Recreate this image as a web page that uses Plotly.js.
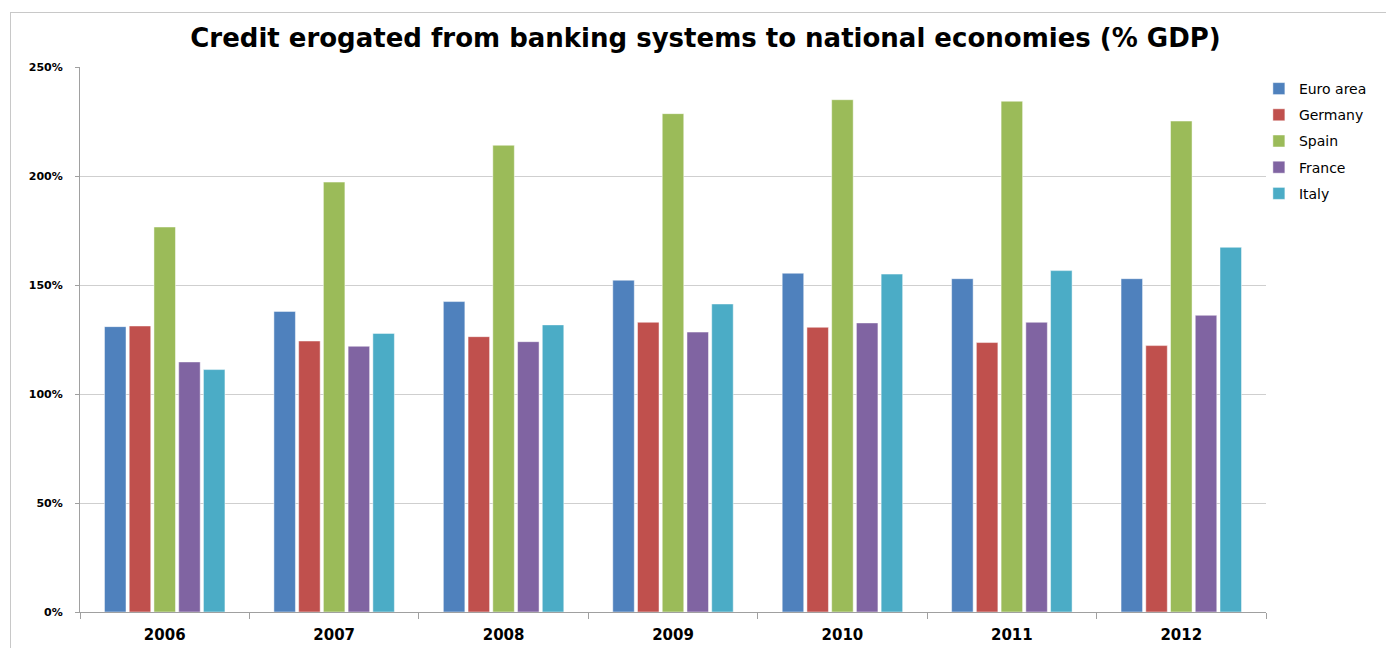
<!DOCTYPE html>
<html>
<head>
<meta charset="utf-8">
<script src="https://cdn.plot.ly/plotly-3.0.1.min.js"></script>
<style>
html,body{margin:0;padding:0;background:#fff;overflow:hidden;}
#chart{width:1386px;height:648px;position:relative;}
#frame{position:absolute;left:10px;top:12px;width:1400px;height:700px;border:1px solid #c8c8c8;pointer-events:none;}
</style>
</head>
<body>
<div id="chart"></div>
<div id="frame"></div>
<script>
const years = ['2006','2007','2008','2009','2010','2011','2012'];
const euroArea = [130.9, 137.9, 142.4, 152.2, 155.4, 152.9, 152.9];
const germany  = [131.2, 124.3, 126.3, 132.9, 130.6, 123.6, 122.2];
const spain    = [176.6, 197.2, 214.1, 228.6, 235.0, 234.3, 225.2];
const france   = [114.7, 121.9, 124.0, 128.4, 132.6, 132.9, 136.1];
const italy    = [111.2, 127.8, 131.7, 141.3, 155.0, 156.6, 167.3];
const seriesNames = ['Euro area', 'Germany', 'Spain', 'France', 'Italy'];
const seriesColors = ['#4F81BD', '#C0504D', '#9BBB59', '#8064A2', '#4BACC6'];
const yTicks = [0, 50, 100, 150, 200, 250];

const allSeries = [euroArea, germany, spain, france, italy];
const traces = allSeries.map((vals, i) => ({
  type: 'bar',
  name: seriesNames[i],
  x: years,
  y: vals,
  legendgroup: 'g' + i,
  marker: {color: seriesColors[i], line: {color: 'rgba(255,255,255,0.6)', width: 0.8}},
  hoverinfo: 'x+y+name'
}));

const layout = {
  width: 1386,
  height: 648,
  margin: {l: 80, r: 120, t: 67, b: 36, autoexpand: false},
  paper_bgcolor: '#ffffff',
  plot_bgcolor: '#ffffff',
  barmode: 'group',
  bargap: 0.27,
  bargroupgap: 0.13,
  title: {
    text: 'Credit erogated from banking systems to national economies (% GDP)',
    font: {family: 'DejaVu Sans, sans-serif', size: 26, color: '#000', weight: 'bold'},
    x: 0.509, xanchor: 'center',
    y: 0.941, yanchor: 'middle', yref: 'container'
  },
  xaxis: {
    type: 'category',
    showline: true, linecolor: '#a0a0a0', linewidth: 1,
    ticks: 'outside', tickson: 'boundaries', ticklen: 6, tickcolor: '#a0a0a0',
    ticklabelstandoff: 9,
    tickfont: {family: 'DejaVu Sans, sans-serif', size: 15, color: '#000', weight: 'bold'},
    showgrid: false,
    fixedrange: true
  },
  yaxis: {
    range: [0, 250],
    tickvals: yTicks,
    ticktext: yTicks.map(v => v + '%'),
    showline: true, linecolor: '#a0a0a0', linewidth: 1,
    ticks: 'outside', ticklen: 4, tickcolor: '#a0a0a0',
    ticklabelstandoff: 10,
    tickfont: {family: 'DejaVu Sans, sans-serif', size: 11, color: '#000', weight: 'bold'},
    showgrid: true, gridcolor: '#cfcfcf', gridwidth: 1,
    zeroline: false,
    fixedrange: true
  },
  legend: {
    x: 0.994, xanchor: 'left',
    y: 0.989, yanchor: 'top',
    traceorder: 'grouped',
    tracegroupgap: 5,
    font: {family: 'DejaVu Sans, sans-serif', size: 14, color: '#000'},
    itemwidth: 30,
    bgcolor: 'rgba(0,0,0,0)'
  },
  showlegend: true
};

Plotly.newPlot('chart', traces, layout, {displayModeBar: false});
</script>
</body>
</html>
